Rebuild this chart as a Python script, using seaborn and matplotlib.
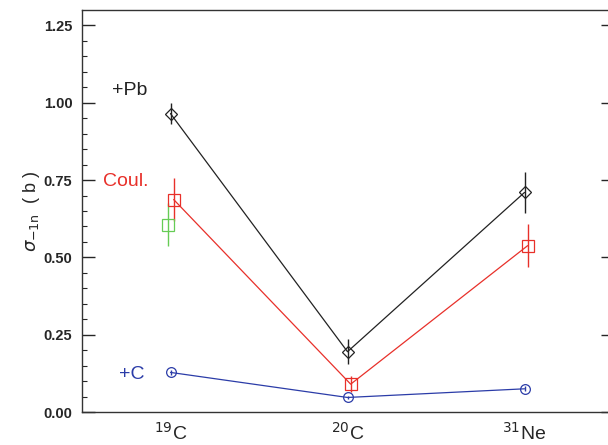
import numpy as np
import pandas as pd
import matplotlib
matplotlib.use("Agg")
import matplotlib.pyplot as plt
import seaborn as sns

categories = ["19C", "20C", "31Ne"]
cat_labels = [r"$^{19}$C", r"$^{20}$C", r"$^{31}$Ne"]
pb_vals = [0.965, 0.195, 0.71]
pb_err = [0.035, 0.04, 0.065]
coul_vals = [0.687, 0.09, 0.538]
coul_err = [0.07, 0.025, 0.07]
c_vals = [0.128, 0.047, 0.075]
c_err = [0.008, 0.006, 0.008]
green_vals = [0.606]
green_err = [0.07]

sns.set_theme(style="ticks")
plt.rcParams["font.family"] = ["Liberation Sans", "DejaVu Sans"]

fig = plt.figure(figsize=(6.08, 4.45), dpi=100)
ax = fig.add_axes([82/608, 1 - 412/445, 531/608, 402/445])

xpos = np.arange(len(categories))
black = "#222222"
red = "#e8302a"
blue = "#2b3ca8"
green = "#66cc55"

def series(vals, err, dx, color, marker, ms):
    df = pd.DataFrame({"x": xpos[:len(vals)] + dx, "y": vals})
    ax.errorbar(df["x"], df["y"], yerr=err, fmt="none", ecolor=color, elinewidth=1.0, capsize=0, zorder=2)
    sns.lineplot(data=df, x="x", y="y", ax=ax, color=color, lw=0.9, marker=marker,
                 markersize=ms, markerfacecolor="none", markeredgecolor=color,
                 markeredgewidth=0.9, zorder=3, sort=False)

series(pb_vals, pb_err, 0.0, black, "D", 6)
series(coul_vals, coul_err, 0.018, red, "s", 8)
series(c_vals, c_err, 0.0, blue, "o", 7)
series(green_vals, green_err, -0.012, green, "s", 8)

ax.set_xlim(-0.5, 2.5)
ax.set_ylim(0, 1.3)
ax.set_xticks(xpos)
ax.set_xticklabels(cat_labels, fontsize=14)
ax.tick_params(axis="x", length=0, pad=7)
ax.set_yticks([0, 0.25, 0.5, 0.75, 1.0, 1.25])
ax.set_yticklabels(["0.00", "0.25", "0.50", "0.75", "1.00", "1.25"], fontsize=10.5, fontweight="bold")
ax.set_yticks(np.arange(0, 1.3, 0.05), minor=True)
ax.tick_params(axis="y", which="major", direction="in", length=9, width=1, left=True, right=True, pad=7)
ax.tick_params(axis="y", which="minor", direction="in", length=3.5, width=0.8, left=True, right=True)
for s in ax.spines.values():
    s.set_visible(True)
    s.set_linewidth(1.0)
    s.set_color("#333333")
ax.set_xlabel("")
ax.set_ylabel(r"$\sigma_{-1\mathrm{n}}$  ( b )", fontsize=13, labelpad=1)

ax.text(-0.33, 1.04, "+Pb", color=black, fontsize=14, va="center", ha="left")
ax.text(-0.38, 0.745, "Coul.", color=red, fontsize=14, va="center", ha="left")
ax.text(-0.29, 0.12, "+C", color=blue, fontsize=14, va="center", ha="left")

fig.savefig("out.png", dpi=100)
